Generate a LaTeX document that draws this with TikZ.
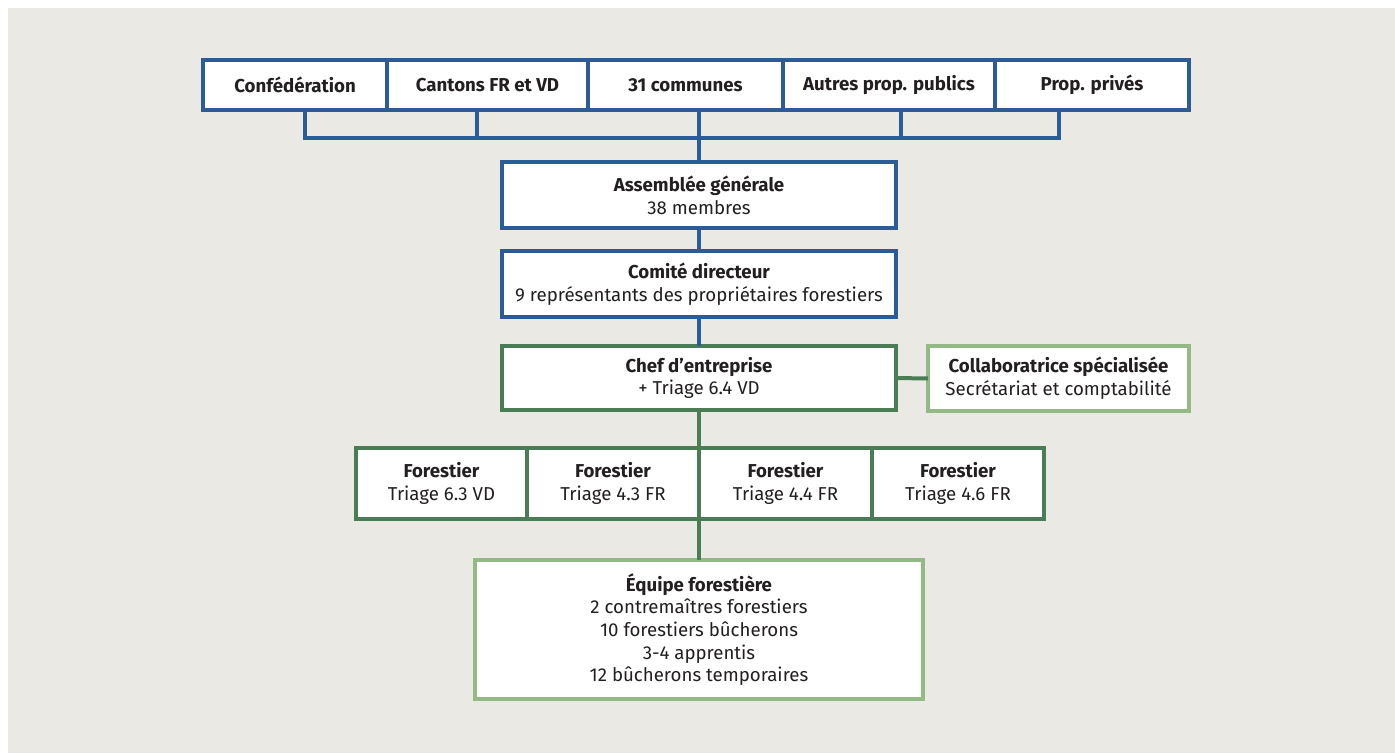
\documentclass[tikz,border=0pt]{standalone}
\usepackage{fontspec}
\setmainfont{Fira Sans}
\usetikzlibrary{positioning}

\definecolor{bgrey}{HTML}{EAE9E4}
\definecolor{fblue}{HTML}{2B5C98}
\definecolor{fgreen}{HTML}{4A7D55}
\definecolor{lgreen}{HTML}{93BA85}
\definecolor{ink}{HTML}{231F20}

\tikzset{
  box/.style={draw=#1, line width=3pt, fill=white, inner sep=0pt, outer sep=0pt,
    align=center, text=ink, font=\fontsize{14}{17}\selectfont},
  link/.style={draw=#1, line width=3pt},
}

\begin{document}
\begin{tikzpicture}[x=0.75pt, y=-0.75pt]
  \useasboundingbox (0,0) rectangle (1395,753);
  \fill[white] (0,0) rectangle (1395,753);
  \fill[bgrey] (8,8) rectangle (1395,753);

  % proprietaires
  \node[box=fblue, minimum width=138pt, minimum height=37.5pt] (conf) at (295,85) {\textbf{Confédération}};
  \node[box=fblue, minimum width=150.75pt, minimum height=37.5pt] (cant) at (487.5,85) {\textbf{Cantons FR et VD}};
  \node[box=fblue, minimum width=146.25pt, minimum height=37.5pt] (comm) at (685.5,85) {\textbf{31 communes}};
  \node[box=fblue, minimum width=159pt, minimum height=37.5pt] (autr) at (889,85) {\textbf{Autres prop. publics}};
  \node[box=fblue, minimum width=145.5pt, minimum height=37.5pt] (priv) at (1092,85) {\textbf{Prop. privés}};

  % organes
  \node[box=fblue, minimum width=295.5pt, minimum height=49.5pt] (ag) at (699,195) {\textbf{Assemblée générale}\\38 membres};
  \node[box=fblue, minimum width=295.5pt, minimum height=49.5pt] (cd) at (699,284) {\textbf{Comité directeur}\\9 représentants des propriétaires forestiers};
  \node[box=fgreen, minimum width=295.5pt, minimum height=48pt] (chef) at (699,378) {\textbf{Chef d’entreprise}\\+ Triage 6.4 VD};
  \node[box=lgreen, minimum width=195.75pt, minimum height=48.75pt] (collab) at (1058.5,378.5) {\textbf{Collaboratrice spécialisée}\\Secrétariat et comptabilité};

  % forestiers
  \node[box=fgreen, minimum width=128.25pt, minimum height=53.25pt] (f1) at (441.5,483.5) {\textbf{Forestier}\\Triage 6.3 VD};
  \node[box=fgreen, minimum width=129pt, minimum height=53.25pt] (f2) at (613,483.5) {\textbf{Forestier}\\Triage 4.3 FR};
  \node[box=fgreen, minimum width=129.75pt, minimum height=53.25pt] (f3) at (785.5,483.5) {\textbf{Forestier}\\Triage 4.4 FR};
  \node[box=fgreen, minimum width=129pt, minimum height=53.25pt] (f4) at (958,483.5) {\textbf{Forestier}\\Triage 4.6 FR};

  \node[box=lgreen, minimum width=336pt, minimum height=104.25pt] (eq) at (699,629.5) {\textbf{Équipe forestière}\\2 contremaîtres forestiers\\10 forestiers bûcherons\\3-4 apprentis\\12 bûcherons temporaires};

  % accolade
  \coordinate (b1) at (305,138);
  \coordinate (b2) at (477,138);
  \coordinate (b3) at (699,138);
  \coordinate (b4) at (901,138);
  \coordinate (b5) at (1059,138);
  \draw[link=fblue] (b1 |- conf.south) -- (b1) -- (b5) -- (b5 |- priv.south);
  \draw[link=fblue] (b2 |- cant.south) -- (b2);
  \draw[link=fblue] (b4 |- autr.south) -- (b4);
  \draw[link=fblue] (ag.north |- comm.south) -- (ag.north);
  \draw[link=fblue] (ag.south) -- (cd.north);
  \draw[link=fblue] (cd.south) -- (chef.north);
  \draw[link=fgreen] (chef.east) -- (collab.west);
  \draw[link=fgreen] (chef.south) -- (f2.north east);
  \draw[link=fgreen] (f2.south east) -- (eq.north);
\end{tikzpicture}
\end{document}
